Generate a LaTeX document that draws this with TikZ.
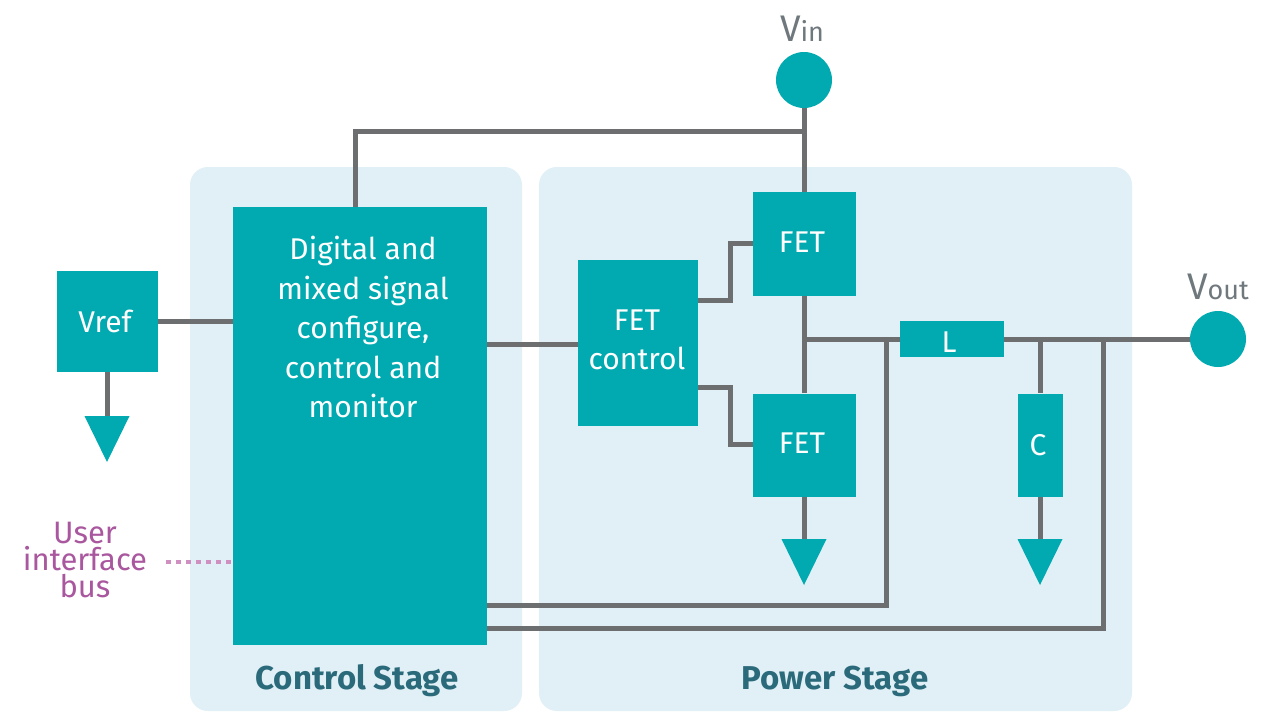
\documentclass[tikz,border=0pt]{standalone}
\usepackage{fontspec}
\setmainfont{Fira Sans}
\definecolor{teal}{HTML}{00AAB0}
\definecolor{panel}{HTML}{E0F0F6}
\definecolor{wire}{HTML}{6D6E70}
\definecolor{bus}{HTML}{A9579E}
\definecolor{dots}{HTML}{CF8FC0}
\definecolor{ink}{HTML}{2A6A7A}
\definecolor{term}{HTML}{6F787D}
\tikzset{
 x=1pt,y=-1pt,
 panelbox/.style={fill=panel,draw=none,rounded corners=18pt},
 block/.style={fill=teal,draw=none,inner sep=0pt},
 blocktext/.style={text=white,inner sep=0pt,align=center,font=\fontsize{30}{39.5}\selectfont},
 wireline/.style={draw=wire,line width=5pt},
 gnd/.style={fill=teal,draw=none},
 termdot/.style={circle,fill=teal,draw=none,inner sep=0pt,minimum size=56pt},
 stage/.style={text=ink,font=\fontsize{33}{38}\selectfont\bfseries,inner sep=0pt},
 termlabel/.style={text=term,inner sep=0pt,font=\fontsize{27}{30}\selectfont},
}
\newcommand{\gndsym}[2]{\fill[gnd] (#1-22.5,#2) -- (#1+22.5,#2) -- (#1,#2+46) -- cycle;}
\newcommand{\bigV}{{\fontsize{37}{40}\selectfont V}}
\begin{document}
\begin{tikzpicture}
\useasboundingbox (0,0) rectangle (1280,721);
\fill[white] (0,0) rectangle (1280,721);
\fill[panelbox] (190,167) rectangle (522,711);
\fill[panelbox] (539,167) rectangle (1132,711);
\node[termdot] (vin) at (804,80) {};
\node[termdot] (vout) at (1218,339) {};
\node[block,minimum width=254pt,minimum height=438pt] (dig) at (360,426) {};
\node[block,minimum width=101pt,minimum height=101pt] (vref) at (107,321) {};
\node[block,minimum width=120pt,minimum height=166pt] (fc) at (638,343) {};
\node[block,minimum width=103pt,minimum height=104pt] (f1) at (804,244) {};
\node[block,minimum width=103pt,minimum height=103pt] (f2) at (804,445) {};
\node[block,minimum width=104pt,minimum height=36pt] (L) at (952,339) {};
\node[block,minimum width=45pt,minimum height=103pt] (C) at (1040,445) {};
\node[blocktext] (vreft) at (105,321) {Vref};
\node[blocktext] (fct) at (637,340) {FET\\control};
\node[blocktext] (f1t) at (802,242) {FET};
\node[blocktext] (f2t) at (802,443) {FET};
\node[blocktext] (Lt) at (949,342) {L};
\node[blocktext] (Ct) at (1038,445) {C};
\coordinate (j1) at (804,339);
\coordinate (j2) at (886,339);
\coordinate (j3) at (1040,339);
\coordinate (j4) at (1103,339);
\begin{scope}[wireline]
\draw (vin) -- (f1);
\draw (804,131) -| (355,207);
\draw (vref) -- (233,321);
\draw (487,344) -- (578,344);
\draw (698,300) -| (730,243) -- (753,243);
\draw (698,387) -| (730,444) -- (753,444);
\draw (f1) -- (f2);
\draw (j1) -- (L);
\draw (L) -- (vout);
\draw (j3) -- (C);
\draw (487,605) -| (j2);
\draw (487,628) -| (j4);
\draw (vref) -- (107,418);
\draw (f2) -- (804,541);
\draw (C) -- (1040,541);
\end{scope}
\gndsym{107}{416}
\gndsym{804}{539}
\gndsym{1040}{539}
\draw[draw=dots,line width=4pt,dash pattern=on 5pt off 5pt] (166,562) -- (233,562);
\node[align=center,text=bus,font=\fontsize{31}{27}\selectfont,inner sep=0pt] (ui) at (85,560) {User\\interface\\bus};
\node[blocktext] (dt) at (363,327) {Digital and\\mixed signal\\configure,\\control and\\monitor};
\node[stage] (cs) at (357,681) {Control Stage};
\node[stage] (ps) at (835,681) {Power Stage};
\node[termlabel,anchor=base] (vi) at (802,41) {\bigV in};
\node[termlabel,anchor=base] (vo) at (1218,299) {\bigV out};
\end{tikzpicture}
\end{document}
